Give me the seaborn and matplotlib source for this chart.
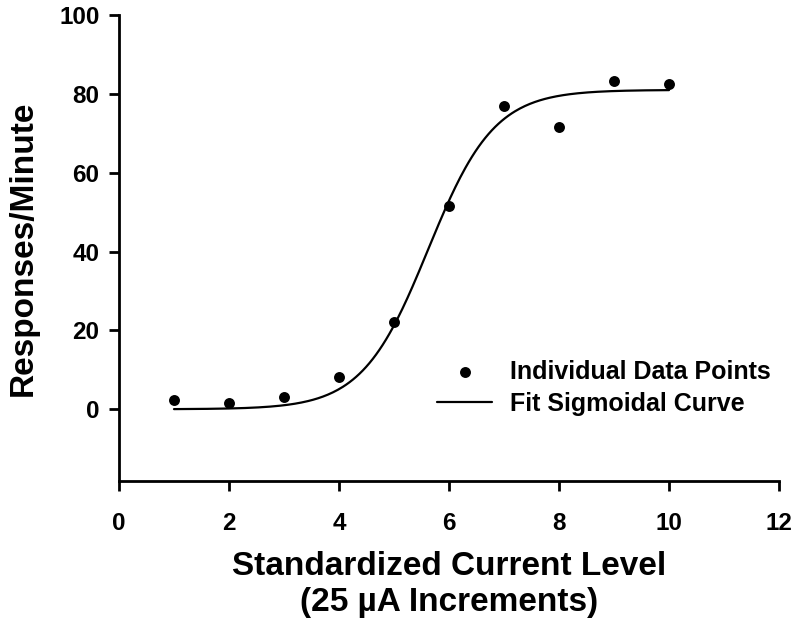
import numpy as np
import pandas as pd
import matplotlib
matplotlib.use("Agg")
import matplotlib.pyplot as plt
import seaborn as sns

# Data
current_level = [1, 2, 3, 4, 5, 6, 7, 8, 9, 10]
responses = [2.3, 1.5, 3.0, 8.2, 22.2, 51.5, 76.8, 71.5, 83.2, 82.5]

# Fitted sigmoid parameters (3-parameter logistic)
fit_top = 81.0
fit_x0 = 5.62
fit_slope = 0.60

x_ticks = [0, 2, 4, 6, 8, 10, 12]
y_ticks = [0, 20, 40, 60, 80, 100]

sns.set_theme(style="ticks", rc={"text.color": "black", "axes.labelcolor": "black",
                                 "xtick.color": "black", "ytick.color": "black",
                                 "axes.edgecolor": "black"})
plt.rcParams['font.family'] = ['Liberation Sans', 'DejaVu Sans']
plt.rcParams['font.weight'] = 'bold'

fig = plt.figure(figsize=(8, 6.27), dpi=100)
ax = fig.add_axes([119 / 800, 1 - 481 / 627, 660 / 800, 466 / 627])

df_pts = pd.DataFrame({"x": current_level, "y": responses})
xs = np.linspace(min(current_level), max(current_level), 300)
df_fit = pd.DataFrame({"x": xs, "y": fit_top / (1 + np.exp(-(xs - fit_x0) / fit_slope))})

sns.scatterplot(data=df_pts, x="x", y="y", ax=ax, color="black", s=62,
                edgecolor="black", linewidth=0, label="Individual Data Points", zorder=3)
sns.lineplot(data=df_fit, x="x", y="y", ax=ax, color="black", linewidth=1.6,
             label="Fit Sigmoidal Curve", zorder=2)

ax.set_xlim(0, 12)
ax.set_ylim(-18.2, 100)
ax.set_xticks(x_ticks)
ax.set_yticks(y_ticks)
ax.tick_params(axis="both", direction="out", length=7, width=2, labelsize=17.5,
               colors="black")
ax.tick_params(axis="x", pad=15)
ax.tick_params(axis="y", pad=7)
for lab in ax.get_xticklabels() + ax.get_yticklabels():
    lab.set_fontweight("bold")
for s in ["top", "right"]:
    ax.spines[s].set_visible(False)
for s in ["left", "bottom"]:
    ax.spines[s].set_linewidth(2)
    ax.spines[s].set_color("black")

ax.set_xlabel("Standardized Current Level\n(25 µA Increments)", fontsize=24,
              fontweight="bold", labelpad=12, linespacing=1.2, color="black")
ax.set_ylabel("Responses/Minute", fontsize=24, fontweight="bold", labelpad=15,
              color="black")

leg = ax.legend(loc="upper left", bbox_to_anchor=(437 / 800, 1 - 360 / 627),
                bbox_transform=fig.transFigure, frameon=False,
                handlelength=2.2, handletextpad=0.7, labelspacing=0.3,
                borderpad=0, borderaxespad=0,
                prop={"weight": "bold", "size": 18})
for t in leg.get_texts():
    t.set_color("black")

fig.savefig("out.png", dpi=100)
